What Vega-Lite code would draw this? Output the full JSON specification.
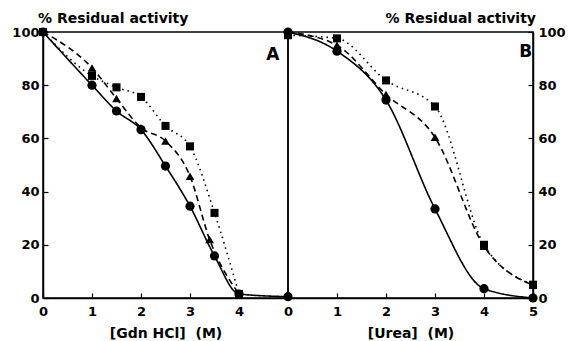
{
  "$schema": "https://vega.github.io/schema/vega-lite/v6.json",
  "padding": {"left": 11, "top": 11, "right": 0, "bottom": 0},
  "bounds": "flush",
  "spacing": 0,
  "background": "white",
  "config": {
    "font": "DejaVu Sans",
    "view": {"stroke": "black", "strokeWidth": 1.5},
    "axis": {
      "labelFont": "DejaVu Sans", "labelFontWeight": "bold", "labelFontSize": 13, "labelColor": "black",
      "domainColor": "black", "domainWidth": 1.5, "tickColor": "black", "tickWidth": 1.2, "grid": false,
      "titleFont": "DejaVu Sans", "titleFontWeight": "bold", "titleFontSize": 14, "titleColor": "black"
    },
    "title": {"font": "DejaVu Sans", "fontWeight": "bold", "fontSize": 14, "color": "black", "frame": "group"}
  },
  "datasets": {
    "gdn": [
      {"series": "circle", "conc": 0, "activity": 100},
      {"series": "circle", "conc": 1, "activity": 80},
      {"series": "circle", "conc": 1.5, "activity": 70.3},
      {"series": "circle", "conc": 2, "activity": 63.3},
      {"series": "circle", "conc": 2.5, "activity": 49.6},
      {"series": "circle", "conc": 3, "activity": 34.5},
      {"series": "circle", "conc": 3.5, "activity": 15.8},
      {"series": "circle", "conc": 4, "activity": 1.5},
      {"series": "circle", "conc": 5, "activity": 0.5},
      {"series": "triangle", "conc": 0, "activity": 100},
      {"series": "triangle", "conc": 1, "activity": 86.5},
      {"series": "triangle", "conc": 1.5, "activity": 75},
      {"series": "triangle", "conc": 2, "activity": 64},
      {"series": "triangle", "conc": 2.5, "activity": 59},
      {"series": "triangle", "conc": 3, "activity": 45.8},
      {"series": "triangle", "conc": 3.4, "activity": 22},
      {"series": "triangle", "conc": 4, "activity": 1.5},
      {"series": "square", "conc": 0, "activity": 100},
      {"series": "square", "conc": 1, "activity": 83.5},
      {"series": "square", "conc": 1.5, "activity": 79.2},
      {"series": "square", "conc": 2, "activity": 75.6},
      {"series": "square", "conc": 2.5, "activity": 64.7},
      {"series": "square", "conc": 3, "activity": 57},
      {"series": "square", "conc": 3.5, "activity": 32},
      {"series": "square", "conc": 4, "activity": 1.5}
    ],
    "urea": [
      {"series": "circle", "conc": 0, "activity": 100},
      {"series": "circle", "conc": 1, "activity": 92.8},
      {"series": "circle", "conc": 2, "activity": 74.4},
      {"series": "circle", "conc": 3, "activity": 33.5},
      {"series": "circle", "conc": 4, "activity": 3.5},
      {"series": "circle", "conc": 5, "activity": 0},
      {"series": "triangle", "conc": 0, "activity": 100},
      {"series": "triangle", "conc": 1, "activity": 95},
      {"series": "triangle", "conc": 2, "activity": 76.5},
      {"series": "triangle", "conc": 3, "activity": 60.4},
      {"series": "triangle", "conc": 4, "activity": 19.5},
      {"series": "triangle", "conc": 5, "activity": 4.8},
      {"series": "square", "conc": 0, "activity": 98.8},
      {"series": "square", "conc": 1, "activity": 97.6},
      {"series": "square", "conc": 2, "activity": 81.8},
      {"series": "square", "conc": 3, "activity": 72},
      {"series": "square", "conc": 4, "activity": 20},
      {"series": "square", "conc": 5, "activity": 5}
    ]
  },
  "hconcat": [
    {
      "width": 245,
      "height": 266,
      "title": {"text": "% Residual activity", "anchor": "start", "offset": 0, "dx": -5},
      "layer": [
        {
          "data": {"name": "gdn"},
          "mark": {"type": "line", "interpolate": "monotone", "color": "black", "strokeWidth": 1.6},
          "encoding": {
            "x": {"field": "conc", "type": "quantitative", "scale": {"domain": [0, 5], "nice": false},
                  "axis": {"values": [0, 1, 2, 3, 4], "title": "[Gdn HCl]\u00a0 (M)", "tickSize": -5, "labelPadding": 12, "titlePadding": 8, "labelFlush": false}},
            "y": {"field": "activity", "type": "quantitative", "scale": {"domain": [0, 100], "nice": false},
                  "axis": {"values": [0, 20, 40, 60, 80, 100], "title": null, "tickSize": -5, "labelPadding": 9, "labelFlush": false}},
            "strokeDash": {"field": "series", "type": "nominal", "legend": null,
                           "scale": {"domain": ["circle", "triangle", "square"], "range": [[1, 0], [6, 4], [1.5, 4]]}}
          }
        },
        {
          "data": {"name": "gdn"},
          "mark": {"type": "point", "filled": true, "color": "black", "opacity": 1},
          "encoding": {
            "x": {"field": "conc", "type": "quantitative"},
            "y": {"field": "activity", "type": "quantitative"},
            "shape": {"field": "series", "type": "nominal", "legend": null,
                      "scale": {"domain": ["circle", "triangle", "square"], "range": ["circle", "triangle-up", "square"]}},
            "size": {"field": "series", "type": "nominal", "legend": null,
                     "scale": {"domain": ["circle", "triangle", "square"], "range": [85, 65, 60]}}
          }
        },
        {
          "data": {"values": [{}]},
          "mark": {"type": "text", "text": "A", "fontSize": 17, "fontWeight": "bold", "font": "DejaVu Sans", "color": "black"},
          "encoding": {
            "x": {"datum": 4.69, "type": "quantitative"},
            "y": {"datum": 91.4, "type": "quantitative"}
          }
        }
      ]
    },
    {
      "width": 245,
      "height": 266,
      "title": {"text": "% Residual activity", "anchor": "end", "offset": 0, "dx": 3},
      "layer": [
        {
          "data": {"name": "urea"},
          "mark": {"type": "line", "interpolate": "monotone", "color": "black", "strokeWidth": 1.6},
          "encoding": {
            "x": {"field": "conc", "type": "quantitative", "scale": {"domain": [0, 5], "nice": false},
                  "axis": {"values": [0, 1, 2, 3, 4, 5], "title": "[Urea]\u00a0 (M)", "tickSize": -5, "labelPadding": 12, "titlePadding": 8, "labelFlush": false}},
            "y": {"field": "activity", "type": "quantitative", "scale": {"domain": [0, 100], "nice": false},
                  "axis": {"orient": "right", "values": [0, 20, 40, 60, 80, 100], "title": null, "tickSize": -5, "labelPadding": 10, "labelFlush": false}},
            "strokeDash": {"field": "series", "type": "nominal", "legend": null,
                           "scale": {"domain": ["circle", "triangle", "square"], "range": [[1, 0], [6, 4], [1.5, 4]]}}
          }
        },
        {
          "data": {"name": "urea"},
          "mark": {"type": "point", "filled": true, "color": "black", "opacity": 1},
          "encoding": {
            "x": {"field": "conc", "type": "quantitative"},
            "y": {"field": "activity", "type": "quantitative"},
            "shape": {"field": "series", "type": "nominal", "legend": null,
                      "scale": {"domain": ["circle", "triangle", "square"], "range": ["circle", "triangle-up", "square"]}},
            "size": {"field": "series", "type": "nominal", "legend": null,
                     "scale": {"domain": ["circle", "triangle", "square"], "range": [85, 65, 60]}}
          }
        },
        {
          "data": {"values": [{}]},
          "mark": {"type": "text", "text": "B", "fontSize": 17, "fontWeight": "bold", "font": "DejaVu Sans", "color": "black"},
          "encoding": {
            "x": {"datum": 4.85, "type": "quantitative"},
            "y": {"datum": 92.6, "type": "quantitative"}
          }
        }
      ]
    }
  ]
}
